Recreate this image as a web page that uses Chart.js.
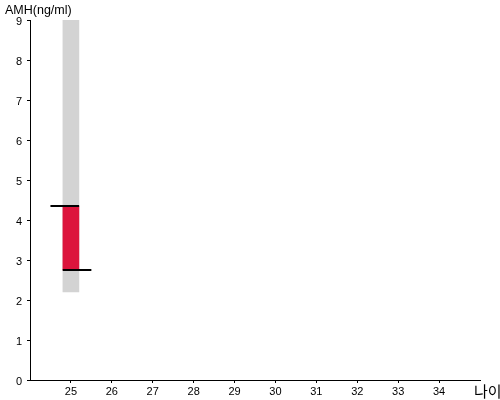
<!DOCTYPE html>
<html>
<head>
<meta charset="utf-8">
<script src="https://cdn.jsdelivr.net/npm/chart.js@4"></script>
<style>
html,body{margin:0;padding:0;background:#fff;}
#wrap{width:500px;height:400px;}
</style>
</head>
<body>
<div id="wrap"><canvas id="amhChart" width="500" height="400"></canvas></div>
<script>
// data
let ages = [25];
let normalLow = [2.2];
let normalHigh = [9];
let userLow = [2.75];
let userHigh = [4.35];
// whisker spans in age units: [from, to]
let upperWhisker = [24.5, 25.2];
let lowerWhisker = [24.8, 25.5];
let xTicks = [25,26,27,28,29,30,31,32,33,34];
let yTitle = "AMH(ng/ml)";
let xTitle = "나이";

let labelsPlugin = {
id:"labels",
afterDraw(chart){
let ctx = chart.ctx;
ctx.save();
ctx.fillStyle = "#000";
ctx.textBaseline = "alphabetic";
ctx.font = "12.5px Arial, 'Liberation Sans'";
ctx.textAlign = "left";
ctx.fillText(yTitle, 5, 14);
ctx.font = "15px 'Noto Sans CJK KR'";
ctx.fillText(xTitle, 474, 397);
ctx.restore();
}
};

let chart = new Chart(document.getElementById("amhChart"),{
type:'bar',
data:{
datasets:[
{
type:'line',
data:upperWhisker.map(x=>({x:x,y:userHigh[0]})),
borderColor:"#000",
borderWidth:2,
pointRadius:0,
order:0
},
{
type:'line',
data:lowerWhisker.map(x=>({x:x,y:userLow[0]})),
borderColor:"#000",
borderWidth:2,
pointRadius:0,
order:0
},
{
data:ages.map((a,i)=>({x:a,y:[userLow[i],userHigh[i]]})),
backgroundColor:"#DC143C",
barThickness:16,
grouped:false,
order:1
},
{
data:ages.map((a,i)=>({x:a,y:[normalLow[i],normalHigh[i]]})),
backgroundColor:"#D3D3D3",
barThickness:16,
grouped:false,
order:2
}
]
},
options:{
responsive:false,
animation:false,
layout:{padding:{top:20,right:20,left:0,bottom:0}},
plugins:{legend:{display:false},tooltip:{enabled:false}},
scales:{
x:{
type:'linear',
min:24,
max:35,
offset:false,
afterFit(s){s.height=20;},
afterBuildTicks(s){s.ticks=xTicks.map(v=>({value:v}));},
grid:{offset:false,drawOnChartArea:false,drawTicks:true,tickLength:3,tickColor:"#000"},
border:{color:"#000",width:1},
ticks:{color:"#000",font:{family:"Arial, 'Liberation Sans'",size:11},padding:2,autoSkip:false,maxRotation:0}
},
y:{
min:0,
max:9,
afterFit(s){s.width=30;},
grid:{drawOnChartArea:false,drawTicks:true,tickLength:3,tickColor:"#000"},
border:{color:"#000",width:1},
ticks:{stepSize:1,color:"#000",font:{family:"Arial, 'Liberation Sans'",size:11},padding:5,labelOffset:2}
}
}
},
plugins:[labelsPlugin]
});
</script>
</body>
</html>
